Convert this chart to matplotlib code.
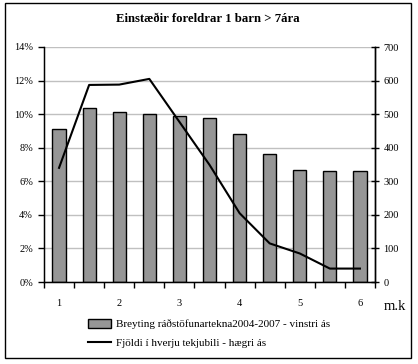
import matplotlib
matplotlib.use("Agg")
import matplotlib.pyplot as plt
from matplotlib.patches import Rectangle
from matplotlib.ticker import FuncFormatter
import numpy as np

plt.rcParams['font.family'] = ['Liberation Serif', 'DejaVu Serif']

categories = ['1', '', '2', '', '3', '', '4', '', '5', '', '6']
breyting = [9.1, 10.35, 10.1, 10.0, 9.87, 9.8, 8.8, 7.6, 6.65, 6.6, 6.6]
fjoldi = [340, 587, 588, 605, 477, 349, 205, 115, 85, 40, 40]

title = 'Einstæðir foreldrar 1 barn > 7ára'
bar_label = 'Breyting ráðstöfunartekna2004-2007 - vinstri ás'
line_label = 'Fjöldi í hverju tekjubili - hægri ás'

W, H = 418, 364
fig = plt.figure(figsize=(W / 100, H / 100), dpi=100)
fig.patch.set_facecolor('white')

ax = fig.add_axes([44 / W, 1 - 282 / H, (375 - 44) / W, (282 - 47) / H])
x = np.arange(len(categories))

ax.set_axisbelow(True)
ax.yaxis.grid(True, color='#c0c0c0', linewidth=1)
bars = ax.bar(x, breyting, width=0.44, color='#969696', edgecolor='black',
              linewidth=1, label=bar_label, zorder=2)
ax.set_ylim(0, 14)
ax.set_xlim(-0.5, len(categories) - 0.5)
ax.set_yticks(np.arange(0, 15, 2))
ax.yaxis.set_major_formatter(FuncFormatter(lambda v, p: f'{int(v)}%'))
ax.set_xticks(x)
ax.set_xticklabels(categories)
ax.set_xticks(np.arange(-0.5, len(categories), 1), minor=True)
ax.tick_params(axis='x', which='major', length=0, pad=12, labelsize=7.5)
ax.tick_params(axis='x', which='minor', length=4, direction='out', width=1)
ax.tick_params(axis='y', length=4, direction='out', width=1, pad=4, labelsize=7.5)
ax.spines['top'].set_visible(False)
for s in ['left', 'bottom', 'right']:
    ax.spines[s].set_color('black')
    ax.spines[s].set_linewidth(1)

ax2 = ax.twinx()
line, = ax2.plot(x, fjoldi, color='black', linewidth=1.5, label=line_label)
ax2.set_ylim(0, 700)
ax2.set_yticks(np.arange(0, 701, 100))
ax2.tick_params(axis='y', length=6, direction='inout', width=1, pad=3, labelsize=7.5)
ax2.spines['top'].set_visible(False)
ax2.spines['right'].set_linewidth(1)

fig.text(208 / W, 1 - 19 / H, title, ha='center', va='center',
         fontsize=9.2, fontweight='bold')
fig.text(395 / W, 1 - 306 / H, 'm.k', ha='center', va='center', fontsize=10.5)

leg = fig.legend(handles=[bars, line], labels=[bar_label, line_label],
                 loc='upper left', bbox_to_anchor=(88 / W, 1 - 319 / H),
                 frameon=False, fontsize=8, handlelength=2.1,
                 handleheight=0.9, handletextpad=0.45, labelspacing=0.75,
                 borderpad=0, borderaxespad=0)

fig.patches.append(Rectangle((5 / W, 1 - 358 / H), (411 - 5) / W, (358 - 3) / H,
                             transform=fig.transFigure, fill=False,
                             edgecolor='black', linewidth=1))

fig.savefig('out.png', dpi=100)
